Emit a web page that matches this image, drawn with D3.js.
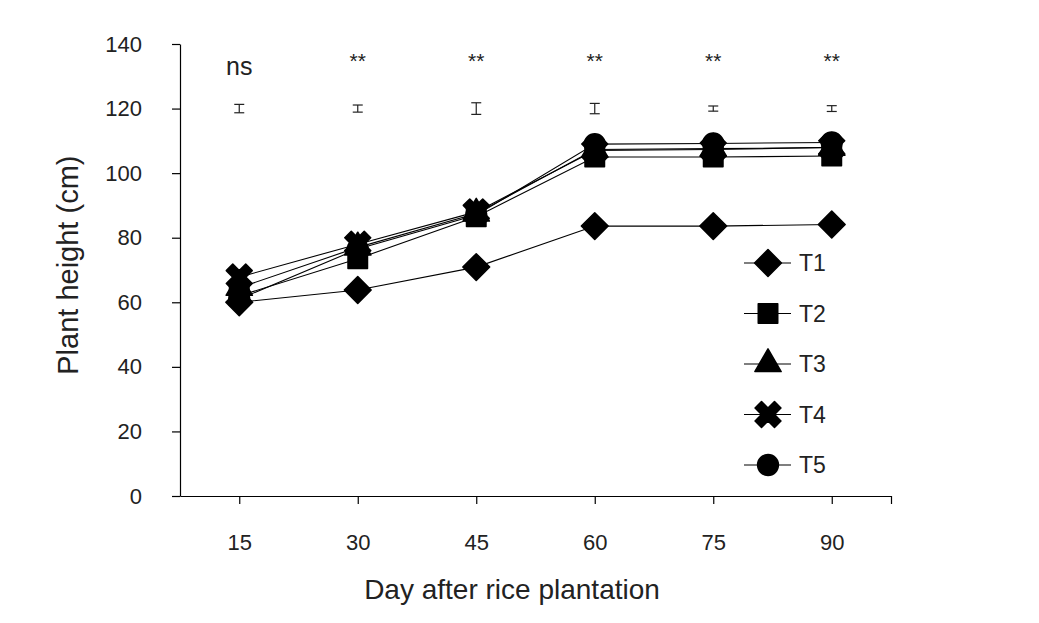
<!DOCTYPE html>
<html>
<head>
<meta charset="utf-8">
<script src="https://cdn.jsdelivr.net/npm/d3@7"></script>
<style>
  body { margin: 0; background: #fff; }
  text { font-family: "Liberation Sans", Arial, sans-serif; fill: #222; }
</style>
</head>
<body>
<svg id="svg"></svg>
<script>
const width = 1039, height = 623;

// data
const days = [15, 30, 45, 60, 75, 90];
const T1 = [60.0, 63.8, 70.9, 83.6, 83.6, 84.1];
const T2 = [62.0, 73.5, 86.5, 105.0, 105.0, 105.3];
const T3 = [64.5, 77.0, 87.5, 107.3, 107.6, 107.9];
const T4 = [67.8, 78.0, 88.0, 107.0, 107.3, 108.0];
const T5 = [61.0, 76.5, 87.0, 109.0, 109.2, 109.5];
const seriesNames = ["T1", "T2", "T3", "T4", "T5"];
const errHalf = [1.3, 1.1, 1.8, 1.6, 0.8, 0.9];   // error bars drawn at 120
const errLevel = 120;
const signif = ["ns", "**", "**", "**", "**", "**"];
const yTicks = [0, 20, 40, 60, 80, 100, 120, 140];

const series = [T1, T2, T3, T4, T5];

let margin = {left: 180, top: 44, right: 148, bottom: 127};
let plotW = width - margin.left - margin.right,
    plotH = height - margin.top - margin.bottom;

const svg = d3.select("#svg").attr("width", width).attr("height", height);

const x = d3.scaleLinear().domain([7.5, 97.5]).range([margin.left, margin.left + plotW]);
const y = d3.scaleLinear().domain([0, 140]).range([margin.top + plotH, margin.top]);

// axes
const yAxis = svg.append("g")
    .attr("transform", `translate(${margin.left},0)`)
    .call(d3.axisLeft(y).tickValues(yTicks).tickSize(8).tickSizeOuter(0).tickPadding(30));
const xAxis = svg.append("g")
    .attr("transform", `translate(0,${margin.top + plotH})`)
    .call(d3.axisBottom(x).tickValues(days.concat([97.5])).tickSize(8).tickSizeOuter(0).tickPadding(30)
        .tickFormat(d => days.includes(d) ? d : ""));
[yAxis, xAxis].forEach(a => {
    a.select(".domain").attr("stroke", "#000").attr("stroke-width", 1.2);
    a.selectAll(".tick line").attr("stroke", "#000").attr("stroke-width", 1.2);
    a.selectAll("text").attr("font-size", 22).attr("fill", "#2a2a2a")
        .style("font-family", "'Liberation Sans', Arial, sans-serif");
});

// axis titles
svg.append("text")
    .attr("x", 512).attr("y", 599)
    .attr("text-anchor", "middle").attr("font-size", 28)
    .text("Day after rice plantation");
svg.append("text")
    .attr("transform", `translate(78,${y(71.5)}) rotate(-90)`)
    .attr("text-anchor", "middle").attr("font-size", 29)
    .text("Plant height (cm)");

// marker shapes
const shapes = [
    {type: d3.symbolSquare, size: 360, rot: 45},
    {type: d3.symbolSquare, size: 380, rot: 0},
    {type: d3.symbolTriangle, size: 300, rot: 0},
    {type: d3.symbolCross, size: 420, rot: 45},
    {type: d3.symbolCircle, size: 340, rot: 0}
];

const line = d3.line().x((d, i) => x(days[i])).y(d => y(d));

series.forEach((s, k) => {
    svg.append("path")
        .datum(s)
        .attr("fill", "none")
        .attr("stroke", "#000")
        .attr("stroke-width", 1.1)
        .attr("d", line);
});
series.forEach((s, k) => {
    svg.append("g").selectAll("path")
        .data(s)
        .join("path")
        .attr("transform", (d, i) => `translate(${x(days[i])},${y(d)}) rotate(${shapes[k].rot})`)
        .attr("d", d3.symbol().type(shapes[k].type).size(shapes[k].size))
        .attr("fill", "#000").attr("stroke", "#000")
        .attr("stroke-width", 1.5).attr("stroke-linejoin", "round");
});

// error bars
const eb = svg.append("g").attr("stroke", "#222").attr("stroke-width", 1.2);
days.forEach((d, i) => {
    const cx = x(d), y0 = y(errLevel - errHalf[i]), y1 = y(errLevel + errHalf[i]);
    eb.append("line").attr("x1", cx).attr("x2", cx).attr("y1", y0).attr("y2", y1);
    eb.append("line").attr("x1", cx - 5).attr("x2", cx + 5).attr("y1", y0).attr("y2", y0);
    eb.append("line").attr("x1", cx - 5).attr("x2", cx + 5).attr("y1", y1).attr("y2", y1);
});

// significance labels
svg.append("g").selectAll("text")
    .data(signif)
    .join("text")
    .attr("x", (d, i) => x(days[i]))
    .attr("y", d => d === "ns" ? 75 : 68)
    .attr("text-anchor", "middle")
    .attr("font-size", d => d === "ns" ? 25 : 21)
    .text(d => d);

// legend
const legend = svg.append("g").attr("transform", "translate(768,263)");
seriesNames.forEach((name, k) => {
    const g = legend.append("g").attr("transform", `translate(0,${k * 50.5})`);
    g.append("line").attr("x1", -24).attr("x2", 23).attr("stroke", "#000").attr("stroke-width", 1.1);
    g.append("path")
        .attr("transform", `rotate(${shapes[k].rot})`)
        .attr("d", d3.symbol().type(shapes[k].type).size(shapes[k].size))
        .attr("fill", "#000").attr("stroke", "#000")
        .attr("stroke-width", 1.5).attr("stroke-linejoin", "round");
    g.append("text").attr("x", 31).attr("y", 8).attr("font-size", 23).text(name);
});
</script>
</body>
</html>
